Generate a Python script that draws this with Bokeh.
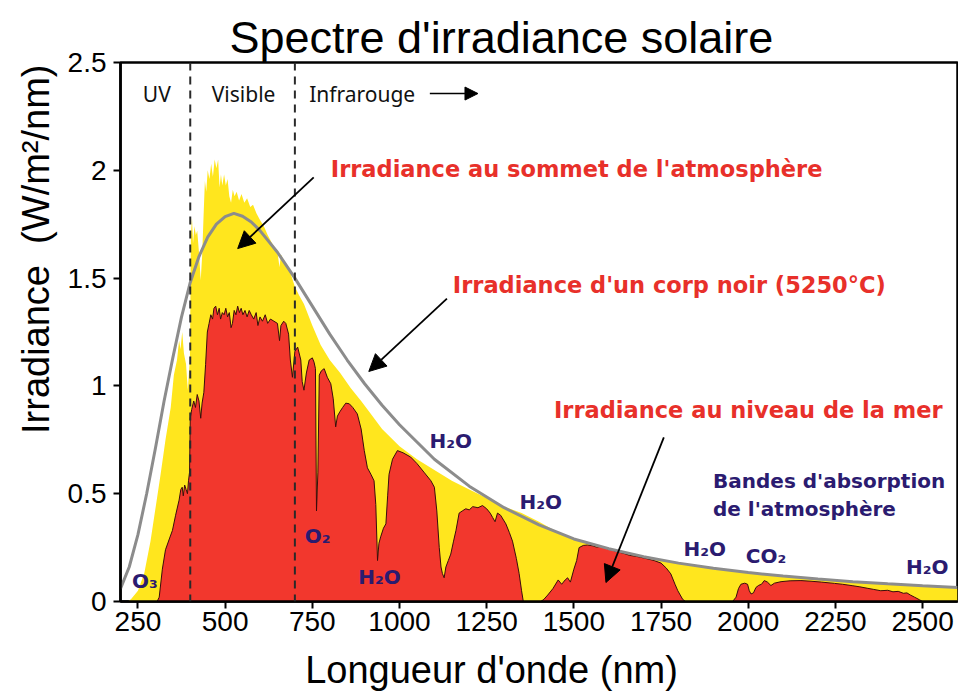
from bokeh.plotting import figure
from bokeh.models import (ColumnDataSource, Span, Label, Arrow, NormalHead, Title,
                          FixedTicker, Range1d)
from bokeh.embed import file_html
from bokeh.resources import INLINE

# ---------------- data ----------------
# Top-of-atmosphere irradiance (yellow)
wl_top = [200, 220, 230, 250, 268, 286, 301, 315, 329, 344, 353, 362, 368, 372, 377, 382, 388, 393,
          397, 399, 402, 405, 408, 412, 416, 420, 425, 430, 434, 438, 442, 446, 450, 455, 460, 465,
          470, 475, 480, 484, 488, 492, 497, 502, 507, 512, 517, 522, 527, 533, 540, 547, 555, 563,
          572, 580, 590, 600, 611, 622, 635, 650, 656, 660, 675, 688, 700, 712, 726, 750, 774, 800,
          830, 860, 890, 918, 950, 1000, 1050, 1100, 1150, 1200, 1250, 1300, 1350, 1400, 1450, 1500,
          1550, 1600, 1650, 1700, 1750, 1800, 1850, 1900, 1950, 2000, 2100, 2200, 2300, 2400, 2500,
          2600]
irr_top = [0.0, 0.0, 0.01, 0.05, 0.13, 0.28, 0.44, 0.59, 0.75, 0.90, 1.05, 1.12, 1.21, 1.17, 1.25,
           1.15, 1.10, 0.98, 1.08, 1.12, 1.70, 1.78, 1.66, 1.74, 1.70, 1.72, 1.62, 1.49, 1.60, 1.78,
           1.95, 1.90, 2.00, 1.96, 2.03, 1.97, 2.05, 2.01, 2.05, 1.92, 1.98, 1.93, 1.98, 1.93, 1.96,
           1.88, 1.85, 1.91, 1.88, 1.90, 1.86, 1.89, 1.85, 1.87, 1.83, 1.84, 1.80, 1.77, 1.74, 1.70,
           1.66, 1.62, 1.55, 1.61, 1.56, 1.52, 1.46, 1.42, 1.38, 1.28, 1.19, 1.12, 1.06, 0.99, 0.93,
           0.87, 0.80, 0.72, 0.66, 0.61, 0.56, 0.52, 0.48, 0.44, 0.41, 0.37, 0.325, 0.29, 0.265,
           0.24, 0.225, 0.205, 0.19, 0.176, 0.164, 0.153, 0.143, 0.133, 0.117, 0.102, 0.09, 0.079,
           0.07, 0.06]

# Sea-level irradiance (red)
wl_sea = [300, 305, 311, 320, 329, 340, 349, 358, 368, 373, 377, 380, 384, 388, 392, 395, 398, 400,
          404, 410, 415, 420, 425, 430, 434, 439, 444, 449, 454, 459, 464, 468, 473, 478, 483, 487,
          492, 497, 502, 507, 512, 517, 521, 526, 531, 536, 541, 546, 551, 557, 563, 569, 575, 582,
          589, 594, 600, 607, 615, 622, 630, 640, 650, 656, 660, 668, 674, 682, 687, 693, 700, 708,
          717, 721, 726, 733, 741, 750, 755, 759, 762, 766, 770, 776, 784, 793, 803, 810, 817, 822,
          829, 837, 846, 856, 866, 879, 890, 899, 908, 918, 927, 932, 937, 941, 946, 954, 961, 966,
          970, 980, 994, 1010, 1032, 1050, 1070, 1090, 1100, 1107, 1114, 1119, 1123, 1128, 1133,
          1140, 1147, 1155, 1162, 1171, 1180, 1190, 1200, 1210, 1225, 1238, 1250, 1260, 1267, 1274,
          1281, 1290, 1305, 1315, 1324, 1335, 1343, 1350, 1355, 1405, 1414, 1425, 1440, 1455, 1465,
          1475, 1482, 1490, 1500, 1508, 1515, 1527, 1539, 1555, 1565, 1578, 1595, 1610, 1626, 1645,
          1660, 1680, 1692, 1710, 1730, 1750, 1765, 1778, 1790, 1798, 1812, 1820, 1955, 1965, 1972,
          1979, 1990, 1998, 2003, 2008, 2015, 2022, 2030, 2038, 2046, 2055, 2065, 2075, 2094, 2120,
          2151, 2180, 2210, 2247, 2270, 2300, 2320, 2343, 2360, 2380, 2400, 2415, 2430, 2445, 2455,
          2465, 2477, 2491, 2500, 2600]
irr_sea = [0.0, 0.0, 0.02, 0.15, 0.24, 0.29, 0.33, 0.40, 0.47, 0.52, 0.53, 0.49, 0.54, 0.52, 0.50,
           0.56, 0.60, 0.85, 0.89, 0.93, 0.90, 0.96, 0.93, 0.85, 0.92, 0.97, 1.10, 1.25, 1.29, 1.33,
           1.31, 1.36, 1.37, 1.33, 1.36, 1.31, 1.34, 1.33, 1.36, 1.32, 1.34, 1.27, 1.29, 1.35, 1.33,
           1.37, 1.34, 1.36, 1.33, 1.35, 1.32, 1.35, 1.33, 1.31, 1.34, 1.28, 1.32, 1.30, 1.33, 1.29,
           1.31, 1.30, 1.29, 1.21, 1.28, 1.30, 1.29, 1.24, 1.12, 1.04, 1.16, 1.18, 1.12, 1.02, 0.98,
           1.06, 1.12, 1.13, 1.11, 1.08, 0.42, 0.60, 1.05, 1.07, 1.08, 1.04, 1.01, 0.94, 0.81, 0.86,
           0.88, 0.90, 0.92, 0.917, 0.90, 0.87, 0.80, 0.70, 0.62, 0.59, 0.56, 0.45, 0.19, 0.27, 0.30,
           0.34, 0.36, 0.49, 0.59, 0.66, 0.70, 0.69, 0.67, 0.64, 0.60, 0.56, 0.53, 0.42, 0.25, 0.16,
           0.13, 0.11, 0.16, 0.19, 0.22, 0.28, 0.33, 0.41, 0.42, 0.43, 0.425, 0.44, 0.435, 0.445,
           0.43, 0.41, 0.39, 0.37, 0.41, 0.40, 0.36, 0.32, 0.28, 0.20, 0.13, 0.05, 0.0, 0.0, 0.01,
           0.03, 0.06, 0.10, 0.08, 0.10, 0.11, 0.09, 0.15, 0.19, 0.25, 0.26, 0.262, 0.258, 0.252,
           0.256, 0.245, 0.238, 0.23, 0.222, 0.214, 0.209, 0.205, 0.198, 0.19, 0.178, 0.155, 0.128,
           0.08, 0.05, 0.01, 0.0, 0.0, 0.02, 0.06, 0.08, 0.085, 0.08, 0.05, 0.035, 0.04, 0.065,
           0.075, 0.08, 0.097, 0.09, 0.074, 0.085, 0.092, 0.096, 0.097, 0.094, 0.09, 0.084, 0.08,
           0.073, 0.068, 0.061, 0.056, 0.05, 0.052, 0.045, 0.047, 0.038, 0.04, 0.03, 0.02, 0.008,
           0.0, 0.0]

# Black body curve (5250 °C)
wl_bb = [200, 225, 250, 275, 300, 325, 350, 375, 400, 425, 450, 475, 500, 525, 550, 575, 600, 650,
         700, 750, 800, 850, 900, 950, 1000, 1100, 1200, 1300, 1400, 1500, 1600, 1700, 1800, 1900,
         2000, 2100, 2200, 2300, 2400, 2500, 2600]
irr_bb = [0.06, 0.16, 0.31, 0.50, 0.71, 0.93, 1.13, 1.32, 1.48, 1.60, 1.69, 1.75, 1.785, 1.80,
          1.787, 1.76, 1.72, 1.62, 1.50, 1.37, 1.24, 1.12, 1.01, 0.91, 0.82, 0.66, 0.535, 0.435,
          0.355, 0.29, 0.245, 0.208, 0.178, 0.154, 0.134, 0.118, 0.104, 0.092, 0.082, 0.073, 0.065]

x_ticks = [250, 500, 750, 1000, 1250, 1500, 1750, 2000, 2250, 2500]
y_ticks = [0, 0.5, 1, 1.5, 2, 2.5]
y_tick_labels = {0: "0", 0.5: "0.5", 1: "1", 1.5: "1.5", 2: "2", 2.5: "2.5"}
region_bounds = [400, 700]
region_names = ["UV", "Visible", "Infrarouge"]

YELLOW = "#ffe61e"
RED = "#f2372d"
GRAY = "#8c8c8c"
TXT_RED = "#e8302a"
NAVY = "#2b1b70"
NBSP = "\u00a0"

p = figure(width=958, height=698, x_range=Range1d(200, 2600), y_range=Range1d(0, 2.5),
           output_backend="svg", toolbar_location=None,
           min_border_left=120, min_border_right=1, min_border_top=62, min_border_bottom=97,
           background_fill_color="white", border_fill_color="white")
p.grid.visible = False
p.outline_line_color = "black"
p.outline_line_width = 2.5
p.outline_line_alpha = 1

top_src = ColumnDataSource(dict(x=wl_top, y=irr_top))
sea_src = ColumnDataSource(dict(x=wl_sea, y=irr_sea))
bb_src = ColumnDataSource(dict(x=wl_bb, y=irr_bb))

p.varea(x="x", y1=0, y2="y", source=top_src, fill_color=YELLOW)
p.varea(x="x", y1=0, y2="y", source=sea_src, fill_color=RED)
p.line(x="x", y="y", source=sea_src, line_color="#3a0c0c", line_width=1)
p.line(x="x", y="y", source=bb_src, line_color=GRAY, line_width=3)

for b in region_bounds:
    p.add_layout(Span(location=b, dimension="height", line_color="#2a2a2a",
                      line_width=2, line_dash="8 6"))

# region names
for name, xx in zip(region_names, [304, 553, 893]):
    p.add_layout(Label(x=xx, y=2.356, text=name, text_align="center", text_baseline="middle",
                       text_font="Noto Sans", text_font_size="21px", text_color="#111111"))
p.add_layout(Arrow(end=NormalHead(size=13, fill_color="black", line_color="black"),
                   x_start=1087, y_start=2.356, x_end=1225, y_end=2.356,
                   line_color="black", line_width=1.5))

# red annotations
red_notes = [("Irradiance au sommet de l'atmosphère", 803, 2.008),
             ("Irradiance d'un corp noir (5250°C)", 1153, 1.466),
             ("Irradiance au niveau de la mer", 1443, 0.886)]
for t, xx, yy in red_notes:
    p.add_layout(Label(x=xx, y=yy, text=t, text_align="left", text_baseline="middle",
                       text_font="DejaVu Sans", text_font_style="bold",
                       text_font_size="22.5px", text_color=TXT_RED))

for t, yy in [("Bandes d'absorption", 0.557), ("de l'atmosphère", 0.427)]:
    p.add_layout(Label(x=1899, y=yy, text=t, text_align="left", text_baseline="middle",
                       text_font="DejaVu Sans", text_font_style="bold",
                       text_font_size="20px", text_color=NAVY))

molecules = [("O₃", 270, 0.097), ("O₂", 765, 0.306), ("H₂O", 943, 0.114),
             ("H₂O", 1147, 0.745), ("H₂O", 1405, 0.46), ("H₂O", 1875, 0.243),
             ("CO₂", 2051, 0.211), ("H₂O", 2513, 0.162)]
for t, xx, yy in molecules:
    p.add_layout(Label(x=xx, y=yy, text=t, text_align="center", text_baseline="middle",
                       text_font="DejaVu Sans", text_font_style="bold",
                       text_font_size="20px", text_color=NAVY))

# arrows
for xs, ys, xe, ye in [(754, 1.967, 536, 1.637), (1136, 1.405, 912, 1.067),
                       (1758, 0.761, 1592, 0.088)]:
    p.add_layout(Arrow(end=NormalHead(size=17, fill_color="black", line_color="black"),
                       x_start=xs, y_start=ys, x_end=xe, y_end=ye,
                       line_color="black", line_width=1.8))

# axes
for ax in (p.xaxis[0], p.yaxis[0]):
    ax.axis_line_width = 2.5
    ax.axis_line_color = "black"
    ax.major_tick_line_width = 2
    ax.major_tick_line_color = "black"
    ax.major_tick_out = 7
    ax.major_tick_in = 0
    ax.minor_tick_line_color = None
    ax.major_label_text_font = "Liberation Sans"
    ax.major_label_text_font_size = "28px"
    ax.major_label_text_color = "black"
p.xaxis.ticker = FixedTicker(ticks=x_ticks)
p.yaxis.ticker = FixedTicker(ticks=y_ticks)
p.yaxis.major_label_overrides = y_tick_labels
p.xaxis.major_label_standoff = 3
p.yaxis.major_label_standoff = 7

# x axis title (trailing no-break spaces shift the centred text to the reference's spot)
p.xaxis.axis_label = "Longueur d'onde (nm)" + NBSP * 9
p.xaxis.axis_label_text_font = "Liberation Sans"
p.xaxis.axis_label_text_font_size = "38px"
p.xaxis.axis_label_text_font_style = "normal"
p.xaxis.axis_label_text_color = "black"
p.xaxis.axis_label_standoff = 15

p.title.text = "Spectre d'irradiance solaire"
p.title.align = "left"
p.title.offset = 109
p.title.text_font = "Liberation Sans"
p.title.text_font_size = "45px"
p.title.text_font_style = "normal"
p.title.text_color = "black"
p.title.standoff = 0

p.add_layout(Title(text="Irradiance" + NBSP + " (W/m²/nm)", align="right", offset=2,
                   text_font="Liberation Sans", text_font_size="38px",
                   text_font_style="normal", text_color="black", standoff=16), "left")

open("out.html", "w").write(file_html(p, INLINE))
